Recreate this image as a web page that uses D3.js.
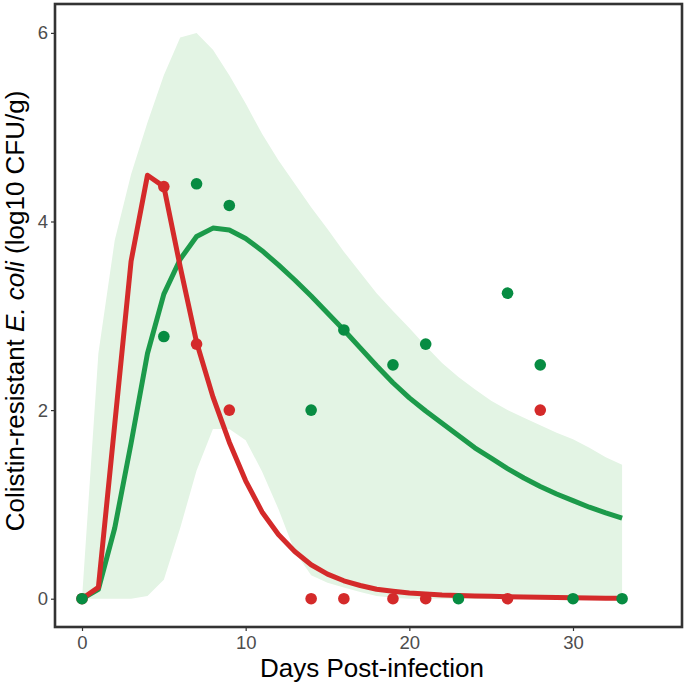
<!DOCTYPE html>
<html><head><meta charset="utf-8">
<script src="https://cdn.jsdelivr.net/npm/d3@7"></script>
<style>body{margin:0;background:#fff}svg{display:block}text{font-family:Arial,"Liberation Sans",sans-serif}</style>
</head><body>
<svg id="c" width="685" height="686"></svg>
<script>
// ---- data ----
const days = d3.range(0, 34);
const greenFit = [0,0.1,0.75,1.65,2.6,3.23,3.6,3.84,3.93,3.91,3.82,3.69,3.54,3.38,3.21,3.03,2.85,2.66,2.47,2.29,2.13,1.99,1.86,1.73,1.6,1.49,1.38,1.28,1.19,1.11,1.04,0.97,0.91,0.855];
const redFit = [0,0.12,1.85,3.58,4.49,4.37,3.52,2.72,2.14,1.66,1.25,0.92,0.68,0.5,0.36,0.26,0.19,0.14,0.1,0.08,0.06,0.05,0.04,0.035,0.03,0.025,0.02,0.018,0.015,0.012,0.01,0.008,0.006,0.005];
const bandUpper = [0,2.6,3.8,4.5,5.05,5.55,5.95,6.0,5.82,5.55,5.25,4.93,4.65,4.4,4.15,3.92,3.68,3.46,3.24,3.05,2.87,2.68,2.5,2.35,2.22,2.1,2.0,1.92,1.84,1.76,1.69,1.6,1.5,1.42];
const bandLower = [0,0,0,0,0.03,0.2,0.75,1.36,1.8,1.8,1.68,1.35,0.95,0.5,0.25,0.17,0.12,0.07,0.03,0.01,0,0,0,0,0,0,0,0,0,0,0,0,0,0];
const greenObsDay = [0,5,7,9,14,16,19,21,23,26,28,30,33];
const greenObsVal = [0,2.78,4.4,4.17,2.0,2.85,2.48,2.7,0,3.24,2.48,0,0];
const redObsDay = [0,5,7,9,14,16,19,21,26,28];
const redObsVal = [0,4.37,2.7,2.0,0,0,0,0,0,2.0];
const xTicks = [0,10,20,30];
const yTicks = [0,2,4,6];

// ---- layout ----
const L=55, R=682, T=4, B=627;
const x = d3.scaleLinear().domain([-1.65,36.66]).range([L,R]);
const y = d3.scaleLinear().domain([-0.3,6.3]).range([B,T+0.6]);
const svg = d3.select("#c");

const band = days.map((d,i)=>({d,u:bandUpper[i],l:bandLower[i]}));
svg.append("path").datum(band)
  .attr("d", d3.area().x(p=>x(p.d)).y0(p=>y(p.l)).y1(p=>y(p.u)))
  .attr("fill","#e3f4e4");

const lineGen = d3.line().x(p=>x(p[0])).y(p=>y(p[1]));
svg.append("path").datum(days.map((d,i)=>[d,greenFit[i]]))
  .attr("d",lineGen).attr("fill","none").attr("stroke","#1c9a4a").attr("stroke-width",5).attr("stroke-linejoin","round");
svg.append("path").datum(days.map((d,i)=>[d,redFit[i]]))
  .attr("d",lineGen).attr("fill","none").attr("stroke","#d42a2a").attr("stroke-width",5).attr("stroke-linejoin","round");

svg.append("g").selectAll("circle").data(redObsDay.map((d,i)=>[d,redObsVal[i]])).join("circle")
  .attr("cx",p=>x(p[0])).attr("cy",p=>y(p[1])).attr("r",5.8).attr("fill","#d42a2a");
svg.append("g").selectAll("circle").data(greenObsDay.map((d,i)=>[d,greenObsVal[i]])).join("circle")
  .attr("cx",p=>x(p[0])).attr("cy",p=>y(p[1])).attr("r",5.8).attr("fill","#078c42");

// panel border
svg.append("rect").attr("x",L).attr("y",T).attr("width",R-L).attr("height",B-T)
  .attr("fill","none").attr("stroke","#333").attr("stroke-width",2.6);

// axes
const xa = svg.append("g").attr("transform",`translate(0,${B})`)
  .call(d3.axisBottom(x).tickValues(xTicks).tickFormat(d3.format("d")).tickSize(4).tickPadding(5));
const ya = svg.append("g").attr("transform",`translate(${L},0)`)
  .call(d3.axisLeft(y).tickValues(yTicks).tickFormat(d3.format("d")).tickSize(4).tickPadding(3));
[xa,ya].forEach(a=>{
  a.select(".domain").remove();
  a.selectAll(".tick line").attr("stroke","#333").attr("stroke-width",1.2);
  a.selectAll(".tick text").attr("fill","#4d4d4d").style("font-size","18.5px").style("font-family","Arial,'Liberation Sans',sans-serif");
});

svg.append("text").attr("x",372).attr("y",677).attr("text-anchor","middle")
  .style("font-size","26px").attr("fill","#000").text("Days Post-infection");
const yt = svg.append("text").attr("transform",`translate(24,311) rotate(-90)`).attr("text-anchor","middle")
  .style("font-size","26px").attr("fill","#000");
yt.append("tspan").text("Colistin-resistant ");
yt.append("tspan").style("font-style","italic").text("E. coli");
yt.append("tspan").text(" (log10 CFU/g)");
</script>
</body></html>
